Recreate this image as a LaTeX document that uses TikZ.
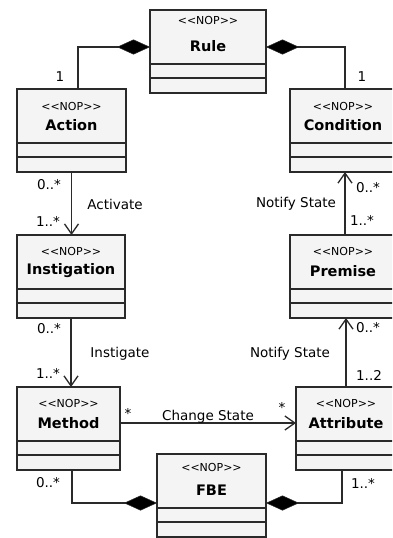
\documentclass[tikz,border=0pt]{standalone}
\usepackage{fontspec}
\setmainfont{DejaVu Sans}[Ligatures=TeXOff]
\usetikzlibrary{arrows.meta,calc}
\definecolor{ln}{HTML}{2A2A2A}
\definecolor{fillc}{HTML}{F4F4F4}
\newcommand\umlclass[6]{%
  \node[clsbox, minimum width=#4pt] (#1) at (#2,#3) {};
  \draw[conn] ([yshift=-54pt]#1.north west) -- ([yshift=-54pt]#1.north east);
  \draw[conn] ([yshift=-68pt]#1.north west) -- ([yshift=-68pt]#1.north east);
  \node[stereo] (#1-st) at ([yshift=-#5pt]#1.north) {<<NOP>>};
  \node[ctitle] (#1-ti) at ([yshift=-36pt]#1.north) {#6};
}
\begin{document}
\begin{tikzpicture}[x=1pt,y=-1pt,
  clsbox/.style={draw=ln, line width=1.6pt, fill=fillc, minimum height=83pt, inner sep=0pt, outer sep=0pt, anchor=north west},
  stereo/.style={font=\fontsize{11}{12}\selectfont, inner sep=0pt},
  ctitle/.style={font=\fontsize{14.5}{15}\selectfont\bfseries, inner sep=0pt},
  lbl/.style={font=\fontsize{13.5}{14}\selectfont, inner sep=0pt},
  conn/.style={draw=ln, line width=1.6pt},
  comp/.style={conn, -{Diamond[length=33pt,width=15pt,fill=black,line width=0.5pt]}},
  nav/.style={conn, -{Straight Barb[length=10pt,width=14pt,line width=1.3pt]}}]
\useasboundingbox (0,0) rectangle (392,538);
\clip (0,0) rectangle (392,538);
\fill[white] (0,0) rectangle (392,538);

\umlclass{rule}{150}{10}{116}{10}{Rule}
\umlclass{action}{17}{89}{109}{17}{Action}
\umlclass{condition}{290}{89}{106}{17}{Condition}
\umlclass{instigation}{17}{235}{108}{16}{Instigation}
\umlclass{premise}{290}{235}{106}{16}{Premise}
\umlclass{method}{17}{387}{103}{16}{Method}
\umlclass{attribute}{296}{387}{100}{16}{Attribute}
\umlclass{fbe}{157}{454}{109}{13}{FBE}

% compositions to Rule
\draw[comp] ([xshift=6.5pt]action.north) |- ([yshift=4.5pt]rule.west);
\draw[comp] ([xshift=2pt]condition.north) |- ([yshift=4.5pt]rule.east);
% navigable associations
\draw[nav] (action.south) -- (action.south |- instigation.north);
\draw[nav] (instigation.south) -- (instigation.south |- method.north);
\draw[nav] ([xshift=2pt]premise.north) -- ([xshift=2pt]premise.north |- condition.south);
\draw[nav] (attribute.north) -- (attribute.north |- premise.south);
\draw[nav] ([yshift=5.5pt]method.east) -- ([yshift=5.5pt]method.east -| attribute.west);
% compositions to FBE
\draw[comp] ([xshift=3.5pt]method.south) |- ([yshift=-7.5pt]fbe.west);
\draw[comp] ([xshift=-4pt]attribute.south) |- ([yshift=-7.5pt]fbe.east);

% labels
\node[lbl] (m1) at (60,77) {1};
\node[lbl] (m2) at (362,77) {1};
\node[lbl] (m3) at (49,185) {0..*};
\node[lbl] (l1) at (115,204) {Activate};
\node[lbl] (m4) at (48,221) {1..*};
\node[lbl] (m5) at (49,329) {0..*};
\node[lbl] (l2) at (120,354) {Instigate};
\node[lbl] (m6) at (48,373) {1..*};
\node[lbl] (m7) at (368,188) {0..*};
\node[lbl] (l3) at (296,204) {Notify State};
\node[lbl] (m8) at (362,220) {1..*};
\node[lbl] (m9) at (368,328) {0..*};
\node[lbl] (l4) at (290,354) {Notify State};
\node[lbl] (m10) at (369,375) {1..2};
\node[lbl] (m11) at (128,413) {*};
\node[lbl] (l5) at (208,417) {Change State};
\node[lbl] (m12) at (282,407) {*};
\node[lbl] (m13) at (48,483) {0..*};
\node[lbl] (m14) at (363,483) {1..*};
\end{tikzpicture}
\end{document}
